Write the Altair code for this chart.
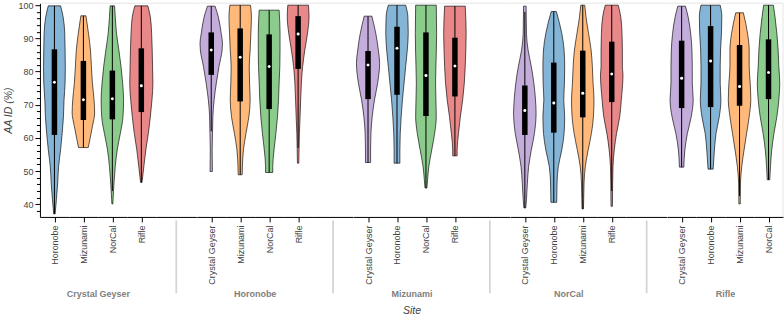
import altair as alt
import pandas as pd

# ---------------- data ----------------
SITES = ["Crystal Geyser", "Horonobe", "Mizunami", "NorCal", "Rifle"]
SITE_COLORS = {
    "Horonobe": "#1f77b4",
    "Mizunami": "#ff7f0e",
    "NorCal": "#2ca02c",
    "Rifle": "#d62728",
    "Crystal Geyser": "#9467bd",
}

# violin outlines: AA identity values (%) ...
OUTLINE_V = {
    ("Crystal Geyser", "Horonobe"): [99.8, 96.5, 91.5, 86.5, 81.5, 76.5, 71.5, 66.4, 61.4, 56.4, 51.4, 46.4, 41.4, 37.1],
    ("Crystal Geyser", "Mizunami"): [96.8, 91.5, 86.5, 81.5, 76.5, 71.5, 67.5, 63.5, 59.5, 57.1],
    ("Crystal Geyser", "NorCal"): [99.8, 96.5, 91.5, 86.5, 81.5, 76.5, 71.5, 66.4, 61.4, 56.4, 51.4, 46.4, 41.4, 40.1],
    ("Crystal Geyser", "Rifle"): [99.8, 96.5, 91.5, 86.5, 81.5, 76.5, 71.5, 66.4, 61.4, 56.4, 51.4, 46.6],
    ("Horonobe", "Crystal Geyser"): [99.7, 96.5, 91.5, 88.5, 86.5, 81.5, 76.5, 71.5, 66.4, 61.4, 56.4, 49.9],
    ("Horonobe", "Mizunami"): [100.0, 96.5, 91.5, 86.5, 81.5, 76.5, 71.5, 66.4, 61.4, 56.4, 51.4, 48.9],
    ("Horonobe", "NorCal"): [98.5, 91.5, 86.5, 81.5, 76.5, 71.5, 66.4, 61.4, 56.4, 51.4, 49.6],
    ("Horonobe", "Rifle"): [100.0, 96.5, 91.5, 86.5, 81.5, 76.5, 71.5, 66.4, 61.4, 56.4, 52.4],
    ("Mizunami", "Crystal Geyser"): [96.7, 91.5, 86.5, 82.5, 76.5, 71.5, 66.4, 61.4, 56.4, 52.6],
    ("Mizunami", "Horonobe"): [100.0, 96.5, 91.5, 86.5, 81.5, 76.5, 71.5, 66.4, 61.4, 56.4, 52.4],
    ("Mizunami", "NorCal"): [100.0, 91.5, 81.5, 76.5, 71.5, 66.4, 61.4, 56.4, 51.4, 47.4, 44.9],
    ("Mizunami", "Rifle"): [99.7, 91.5, 86.5, 81.5, 76.5, 71.5, 66.4, 61.4, 56.4, 54.6],
    ("NorCal", "Crystal Geyser"): [99.7, 91.5, 86.5, 81.5, 76.5, 71.5, 67.5, 61.4, 56.4, 51.4, 46.4, 41.4, 38.9],
    ("NorCal", "Horonobe"): [98.1, 91.5, 86.5, 81.5, 76.5, 71.5, 66.4, 61.4, 56.4, 51.4, 46.4, 40.6],
    ("NorCal", "Mizunami"): [100.0, 96.5, 91.5, 86.5, 81.5, 76.5, 71.5, 66.4, 61.4, 56.4, 51.4, 46.4, 41.4, 38.6],
    ("NorCal", "Rifle"): [100.0, 96.5, 91.5, 86.5, 81.5, 79.0, 71.5, 66.4, 61.4, 56.4, 51.4, 46.4, 39.4],
    ("Rifle", "Crystal Geyser"): [99.7, 96.5, 91.5, 86.5, 81.5, 76.5, 71.5, 66.4, 61.4, 56.4, 51.2],
    ("Rifle", "Horonobe"): [100.0, 96.5, 91.5, 86.5, 81.5, 76.5, 71.5, 66.4, 61.4, 56.4, 50.6],
    ("Rifle", "Mizunami"): [97.7, 91.5, 86.5, 81.5, 76.5, 71.5, 66.4, 61.4, 56.4, 51.4, 46.4, 40.1],
    ("Rifle", "NorCal"): [100.0, 96.5, 91.5, 86.5, 81.5, 76.5, 71.5, 66.4, 61.4, 56.4, 51.4, 47.4],
}
# ... and relative density (violin width, 1 = widest)
OUTLINE_D = {
    ("Crystal Geyser", "Horonobe"): [.53, .75, .89, .92, .94, .92, .83, .78, .67, .53, .36, .28, .17, .06],
    ("Crystal Geyser", "Mizunami"): [.22, .44, .61, .69, .78, .92, .97, .78, .56, .42],
    ("Crystal Geyser", "NorCal"): [.19, .25, .36, .56, .75, .89, .97, .92, .69, .42, .25, .14, .06, .04],
    ("Crystal Geyser", "Rifle"): [.56, .78, .89, .94, .97, 1.0, .92, .78, .61, .39, .22, .06],
    ("Horonobe", "Crystal Geyser"): [.33, .61, .86, .97, .94, .67, .44, .25, .14, .11, .08, .10],
    ("Horonobe", "Mizunami"): [.89, .97, .92, .86, .78, .81, .86, .75, .50, .28, .19, .17],
    ("Horonobe", "NorCal"): [.86, .94, .94, .92, .86, .81, .72, .58, .42, .31, .31],
    ("Horonobe", "Rifle"): [.89, .94, .81, .58, .39, .28, .22, .17, .11, .08, .06],
    ("Mizunami", "Crystal Geyser"): [.33, .67, .89, 1.0, .83, .56, .36, .25, .22, .22],
    ("Mizunami", "Horonobe"): [.75, .94, .97, .89, .75, .61, .47, .36, .28, .25, .25],
    ("Mizunami", "NorCal"): [.89, .92, .86, .83, .86, .89, .75, .50, .25, .14, .08],
    ("Mizunami", "Rifle"): [.89, .97, .94, .89, .81, .67, .47, .31, .19, .19],
    ("NorCal", "Crystal Geyser"): [.11, .14, .28, .56, .78, .92, .97, .83, .56, .33, .22, .14, .08],
    ("NorCal", "Horonobe"): [.22, .69, .89, .94, .92, .86, .94, .89, .69, .39, .28, .25],
    ("NorCal", "Mizunami"): [.17, .28, .50, .72, .83, .89, .97, .92, .75, .47, .22, .11, .08, .06],
    ("NorCal", "Rifle"): [.56, .78, .89, .92, .92, .97, .83, .69, .42, .22, .11, .08, .06],
    ("Rifle", "Crystal Geyser"): [.33, .56, .78, .89, .92, .92, 1.0, .83, .50, .28, .19],
    ("Rifle", "Horonobe"): [.83, .97, .94, .86, .83, .83, .89, .75, .47, .33, .22],
    ("Rifle", "Mizunami"): [.33, .69, .83, .83, .92, .97, .83, .61, .39, .19, .08, .06],
    ("Rifle", "NorCal"): [.42, .56, .72, .83, .89, .97, .89, .72, .47, .28, .17, .11],
}
# inner box: whisker low, Q1, median, Q3, whisker high
BOX_STATS = {
    ("Crystal Geyser", "Horonobe"): (37.1, 60.9, 76.8, 86.7, 99.8),
    ("Crystal Geyser", "Mizunami"): (57.1, 65.4, 71.5, 83.2, 96.8),
    ("Crystal Geyser", "NorCal"): (44.0, 65.6, 71.8, 80.3, 99.8),
    ("Crystal Geyser", "Rifle"): (46.6, 67.8, 75.7, 87.0, 99.8),
    ("Horonobe", "Crystal Geyser"): (62.0, 79.0, 86.5, 91.8, 99.7),
    ("Horonobe", "Mizunami"): (48.9, 71.0, 84.3, 93.0, 100.0),
    ("Horonobe", "NorCal"): (49.6, 68.7, 81.5, 91.2, 98.5),
    ("Horonobe", "Rifle"): (57.0, 80.8, 91.3, 96.7, 100.0),
    ("Mizunami", "Crystal Geyser"): (52.6, 71.7, 82.0, 86.2, 96.7),
    ("Mizunami", "Horonobe"): (52.4, 73.0, 87.0, 93.5, 100.0),
    ("Mizunami", "NorCal"): (44.9, 66.6, 78.8, 91.8, 100.0),
    ("Mizunami", "Rifle"): (54.6, 72.5, 81.7, 90.2, 99.7),
    ("NorCal", "Crystal Geyser"): (38.9, 60.9, 68.3, 75.8, 98.0),
    ("NorCal", "Horonobe"): (40.6, 61.6, 70.5, 82.7, 98.1),
    ("NorCal", "Mizunami"): (38.6, 66.2, 73.5, 86.3, 100.0),
    ("NorCal", "Rifle"): (44.0, 70.8, 79.3, 89.0, 100.0),
    ("Rifle", "Crystal Geyser"): (51.2, 69.0, 78.0, 89.3, 99.7),
    ("Rifle", "Horonobe"): (50.6, 69.3, 83.2, 93.7, 100.0),
    ("Rifle", "Mizunami"): (42.5, 69.7, 75.5, 88.0, 97.7),
    ("Rifle", "NorCal"): (47.4, 71.7, 79.7, 89.7, 100.0),
}

# ---------------- styling ----------------
Y_MIN, Y_MAX = 36.2, 100.6
CELL_W = 29
GAP_W = 40.6
PLOT_H = 214
HALF_W = 0.4
FONT = "Liberation Sans"
LABEL_SIZE = 9
TITLE_SIZE = 10.5

yscale = alt.Scale(domain=[Y_MIN, Y_MAX], nice=False, zero=False)
xscale = alt.Scale(domain=[-0.5, 0.5], nice=False, zero=False)

Y_AXIS = alt.Axis(
    title="AA ID (%)",
    values=list(range(38, 101, 2)),
    labelExpr="datum.value % 10 === 0 ? datum.label : ''",
    tickSize={"condition": {"test": "datum.value % 10 === 0", "value": 5}, "value": 3.5},
    tickColor="black", domainColor="black", grid=False,
    labelColor="#444444", labelFont=FONT, labelFontSize=LABEL_SIZE, labelPadding=2,
    titleFont=FONT, titleFontSize=TITLE_SIZE, titleFontStyle="italic",
    titleFontWeight="normal", titleColor="#444444", titlePadding=4,
)


def x_axis(sub, title=None, title_kind=None):
    kw = dict(
        values=[0], labelExpr="'" + sub + "'", labelAngle=-90,
        labelAlign="right", labelBaseline="middle",
        tickSize=5, tickColor="black", domainColor="black", grid=False,
        labelPadding=3, labelFont=FONT, labelFontSize=LABEL_SIZE,
        labelColor="#444444", title=title,
    )
    if title_kind == "group":
        kw.update(titleX=CELL_W, titleY=77, titleAlign="center", titleBaseline="middle",
                  titleAngle=0, titleFont=FONT, titleFontSize=LABEL_SIZE,
                  titleFontWeight="bold", titleColor="#808080")
    elif title_kind == "site":
        kw.update(titleX=0, titleY=99, titleAlign="center", titleBaseline="bottom",
                  titleAngle=0, titleFont=FONT, titleFontSize=TITLE_SIZE,
                  titleFontWeight="normal", titleFontStyle="italic", titleColor="#444444")
    return alt.Axis(**kw)


def violin(group, sub, show_y, title=None, title_kind=None, right_edge=False):
    yax = Y_AXIS if show_y else None
    xax = x_axis(sub, title, title_kind)
    outline = pd.DataFrame({"v": OUTLINE_V[(group, sub)], "d": OUTLINE_D[(group, sub)]})
    wlo, q1, med, q3, whi = BOX_STATS[(group, sub)]
    stats = pd.DataFrame({"wlo": [wlo], "q1": [q1], "med": [med], "q3": [q3], "whi": [whi]})
    color = SITE_COLORS[sub]

    area = alt.Chart(outline).transform_calculate(
        lo=f"-{HALF_W} * datum.d", hi=f"{HALF_W} * datum.d"
    ).mark_area(
        orient="horizontal", interpolate="monotone", fill=color, fillOpacity=0.55,
        stroke="black", strokeOpacity=0.8, strokeWidth=0.8,
    ).encode(
        y=alt.Y("v:Q", scale=yscale, axis=yax, title="AA ID (%)"),
        x=alt.X("lo:Q", scale=xscale, axis=xax),
        x2="hi:Q",
    )
    base = alt.Chart(stats)
    xd = alt.X(datum=0, scale=xscale, axis=xax)
    whisker = base.mark_rule(color="black", strokeWidth=1).encode(
        x=xd, y=alt.Y("wlo:Q", scale=yscale, axis=yax, title="AA ID (%)"), y2="whi:Q")
    box = base.mark_rule(color="black", strokeWidth=5.5).encode(
        x=xd, y=alt.Y("q1:Q", scale=yscale, axis=yax, title="AA ID (%)"), y2="q3:Q")
    median = base.mark_point(shape="circle", filled=True, color="white", size=9, opacity=1).encode(
        x=xd, y=alt.Y("med:Q", scale=yscale, axis=yax, title="AA ID (%)"))
    top = base.mark_rule(color="#e5e5e5", strokeWidth=1).encode(
        y=alt.Y(datum=Y_MAX, scale=yscale, axis=yax))
    layers = [top, area, whisker, box, median]
    if right_edge:
        layers.append(base.mark_rule(color="#e5e5e5", strokeWidth=1).encode(
            x=alt.X(datum=0.5, scale=xscale, axis=xax)))
    return alt.layer(*layers).properties(width=CELL_W, height=PLOT_H)


def spacer():
    base = alt.Chart(pd.DataFrame({"a": [0]}))
    ax = alt.Axis(values=[0], labels=False, tickSize=76, tickColor="#d3d3d3", tickWidth=1.7,
                  tickDash=[0, 3, 100], domainColor="black", title=None, grid=False)
    return base.mark_rule(color="#e5e5e5", strokeWidth=1).encode(
        x=alt.X(datum=-0.5, scale=xscale, axis=ax),
        x2=alt.X2(datum=0.5),
        y=alt.Y(datum=Y_MAX, scale=yscale, axis=None),
    ).properties(width=GAP_W, height=PLOT_H)


panels = []
for gi, group in enumerate(SITES):
    subs = [s for s in SITES if s != group]
    if gi > 0:
        panels.append(spacer())
    for si, sub in enumerate(subs):
        title, kind = None, None
        if si == 1:
            title, kind = group, "group"
        if group == "Mizunami" and si == 2:
            title, kind = "Site", "site"
        panels.append(violin(group, sub, show_y=(gi == 0 and si == 0), title=title,
                             title_kind=kind,
                             right_edge=(gi == len(SITES) - 1 and si == len(subs) - 1)))

chart = alt.hconcat(*panels, spacing=0, bounds="flush").properties(
    padding={"left": 3, "right": 0, "top": 0, "bottom": 0}
).configure_view(stroke=None)

chart.save("out.html", embed_options={"renderer": "svg", "actions": False})
